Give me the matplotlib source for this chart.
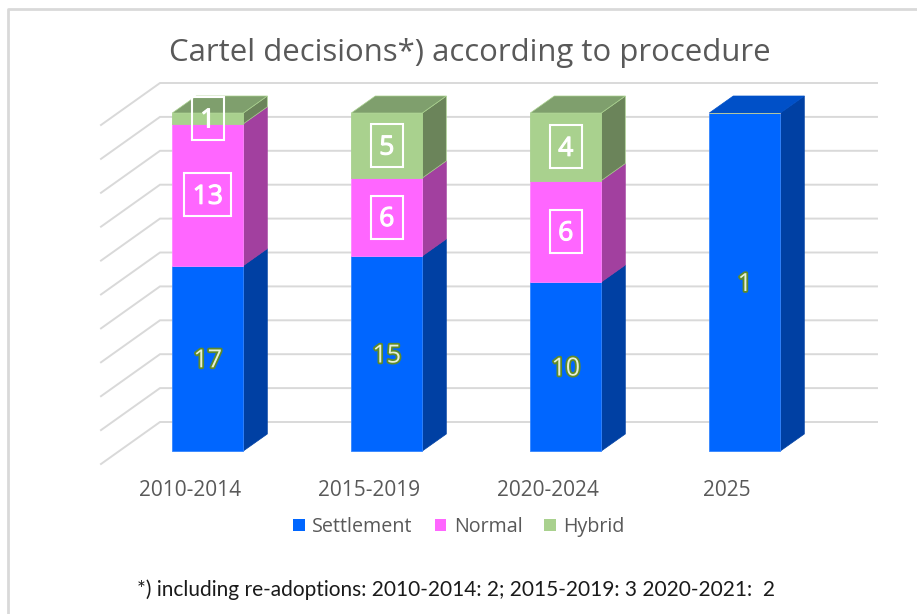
import matplotlib
matplotlib.use("Agg")
import matplotlib.pyplot as plt
import matplotlib.patheffects as pe
from matplotlib.patches import Polygon, Rectangle
import numpy as np

categories = ["2010-2014", "2015-2019", "2020-2024", "2025"]
settlement = [17, 15, 10, 1]
normal = [13, 6, 6, 0]
hybrid = [1, 5, 4, 0]
series_names = ["Settlement", "Normal", "Hybrid"]
title = "Cartel decisions*) according to procedure"
footnote = "*) including re-adoptions: 2010-2014: 2; 2015-2019: 3 2020-2021:  2"
grid_levels = [0, 10, 20, 30, 40, 50, 60, 70, 80, 90, 100]

W, H = 917, 614
X_STEP = 179.0      # px per category
X0 = 207.8          # px of first category
Y0 = 451.0          # px of 0 %
Y_SCALE = 3.38      # px per percent
BAR_PX = 71.0
DEPTH_X, DEPTH_Y = 24.0, 17.0
TEXT_SHIFT = 2.5 / Y_SCALE
front = ["#0066FF", "#FF66FF", "#A9D18E"]
side = ["#0040A3", "#A2409F", "#6B845A"]
topc = ["#0050C8", "#C050C0", "#7F9F6D"]
edge = ["#3385FF", "#FF85FF", "#A9D18E"]

fig = plt.figure(figsize=(W / 100, H / 100), dpi=100, facecolor="white")
ax = fig.add_axes([0, 0, 1, 1])
ax.set_xlim((0 - X0) / X_STEP, (W - X0) / X_STEP)
ax.set_ylim((Y0 - H) / Y_SCALE, Y0 / Y_SCALE)
for s in ax.spines.values():
    s.set_visible(False)
ax.set_yticks([])

dx = DEPTH_X / X_STEP
dy = DEPTH_Y / Y_SCALE
bw = BAR_PX / X_STEP

# outer chart frame
ax.plot([8 / W, 8 / W, 1], [0, 1 - 9 / H, 1 - 9 / H], transform=ax.transAxes,
        color="#D9D9D9", lw=2, clip_on=False, zorder=1)

# back wall + floor gridlines
wall_x0 = (160 - X0) / X_STEP
wall_x1 = (877 - X0) / X_STEP
front_x = (101 - X0) / X_STEP
wall_base = (Y0 - 422) / Y_SCALE
floor_drop = 42 / Y_SCALE
wall_scale = 339 / 338
for g in grid_levels:
    yb = wall_base + g * wall_scale
    ax.plot([front_x, wall_x0, wall_x1], [yb - floor_drop, yb, yb],
            color="#D9D9D9", lw=1.4, zorder=2, solid_joinstyle="miter")

S = np.array([settlement, normal, hybrid], dtype=float)
totals = S.sum(axis=0)
P = S / totals * 100

handles = []
for k, name in enumerate(series_names):
    bottoms = P[:k].sum(axis=0)
    cont = ax.bar(range(len(categories)), P[k], bw, bottom=bottoms, color=front[k],
                  edgecolor=edge[k], linewidth=0.6, zorder=5, label=name)
    handles.append(Rectangle((0, 0), 1, 1, fc=front[k], ec="none"))
    for i in range(len(categories)):
        if P[k][i] <= 0:
            continue
        xr = i + bw / 2
        xl = i - bw / 2
        y0, y1 = bottoms[i], bottoms[i] + P[k][i]
        ax.add_patch(Polygon([(xr, y0), (xr + dx, y0 + dy), (xr + dx, y1 + dy), (xr, y1)],
                             fc=side[k], ec=edge[k] if k == 2 else side[k], lw=0.5, zorder=4))
        if k == int(np.max(np.nonzero(S[:, i]))):
            ax.add_patch(Polygon([(xl, y1), (xl + dx, y1 + dy), (xr + dx, y1 + dy), (xr, y1)],
                                 fc=topc[k], ec=edge[k] if k == 2 else topc[k], lw=0.5, zorder=4))
        cy = (y0 + y1) / 2
        val = int(S[k][i])
        if k == 0:
            ax.text(i, cy - TEXT_SHIFT, str(val), ha="center", va="center", fontsize=18, zorder=8,
                    family="Open Sans", color="#E6F0D8",
                    path_effects=[pe.withStroke(linewidth=2.6, foreground="#5F8A2A")])
        else:
            ax.text(i, cy - TEXT_SHIFT, str(val), ha="center", va="center", fontsize=19, zorder=8,
                    family="Open Sans", color="white",
                    path_effects=[pe.withStroke(linewidth=0.8, foreground="white")])
            bpx = 47 if val >= 10 else 32
            ax.add_patch(Rectangle((i - bpx / 2 / X_STEP, cy - 21.5 / Y_SCALE),
                                   bpx / X_STEP, 43 / Y_SCALE, fc="none", ec="white",
                                   lw=1.5, zorder=8))

# category labels through the axis
ax.set_xticks([i - 18 / X_STEP for i in range(len(categories))])
ax.set_xticklabels(categories, family="Open Sans", fontsize=15, color="#595959")
ax.tick_params(axis="x", length=0, pad=-(H - 480) * 0.72)

ax.set_title(title, x=470 / W, y=1 - 53 / H, va="center", fontsize=22.4,
             family="Open Sans", color="#595959", pad=0)

ax.text(456 / W, 1 - 590 / H, footnote, transform=ax.transAxes, ha="center", va="center",
        family="Lato", fontsize=15, color="#1A1A1A")

leg = ax.legend(handles, series_names, ncol=3, loc="center",
                bbox_to_anchor=(459 / W, 1 - 527 / H), frameon=False,
                prop={"family": "Open Sans", "size": 14.2}, labelcolor="#595959",
                handlelength=0.58, handleheight=0.58, handletextpad=0.38, columnspacing=1.12)

fig.savefig("out.png", dpi=100, facecolor="white")
